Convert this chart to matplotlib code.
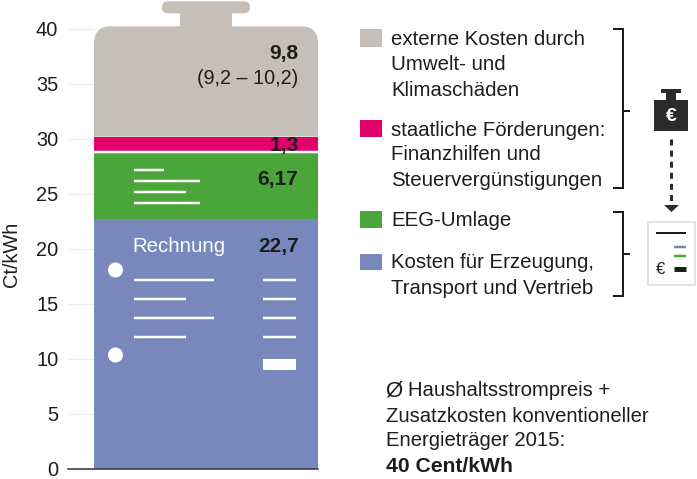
import matplotlib
matplotlib.use("Agg")
import matplotlib.pyplot as plt
from matplotlib.path import Path
from matplotlib.patches import PathPatch, Rectangle, Circle, Polygon

plt.rcParams['font.family'] = ['Liberation Sans', 'DejaVu Sans']

segment_names = ["Kosten", "EEG", "Foerderung", "Extern"]
segment_values = [22.7, 6.17, 1.3, 9.8]
segment_labels = ["22,7", "6,17", "1,3", "9,8"]
segment_colors = ["#7888bd", "#4aa63a", "#e2006a", "#c5bfb7"]
range_label = "(9,2 – 10,2)"
y_ticks = [0, 5, 10, 15, 20, 25, 30, 35, 40]

W, H = 697, 479
fig = plt.figure(figsize=(W/100, H/100), dpi=100)
PX = 72/100

# pixel overlay
ov = fig.add_axes([0, 0, 1, 1], zorder=3)
ov.set_xlim(0, W); ov.set_ylim(H, 0); ov.axis("off")

# chart axes: x in px, y in data
bottom_px, top_px = 468.5, 28.5
ax = fig.add_axes([68/W, (H-bottom_px)/H, 250/W, (bottom_px-top_px)/H], zorder=2)
ax.patch.set_alpha(0)
ax.set_xlim(68, 318); ax.set_ylim(0, 40)
for s in ["top", "right", "left"]:
    ax.spines[s].set_visible(False)
ax.spines["bottom"].set_color("#333333")
ax.spines["bottom"].set_linewidth(1.1)
ax.set_xticks([])
ax.set_yticks(y_ticks)
ax.tick_params(axis="y", direction="in", length=26*PX, width=0.9, color="#ececec",
               labelsize=14.4, labelcolor="#1d1d1b", pad=7)

x0, x1 = 94, 318
xc = (x0+x1)/2
bottom = 0
for v, c in zip(segment_values[:3], segment_colors[:3]):
    ax.bar(xc, v, width=x1-x0, bottom=bottom, color=c, linewidth=0, zorder=2)
    bottom += v
# white gap under the pink band
gap = bottom - segment_values[2]
ax.plot([x0, x1], [gap-0.11, gap-0.11], color="white", lw=2.5*PX, solid_capstyle="butt", zorder=3)

# weight-shaped grey segment
top = bottom + segment_values[3] + 0.23
u = 1/11  # one pixel in value units
r = 17
nx0, nx1 = 180, 232
cx0, cx1 = 162, 250
verts = [(x0, bottom), (x0, top-r*u), (x0, top), (x0+r, top), (nx0, top), (nx0, top+13*u),
         (cx0+6, top+13*u), (cx0, top+13*u), (cx0, top+19*u), (cx0, top+25*u), (cx0+6, top+25*u),
         (cx1-6, top+25*u), (cx1, top+25*u), (cx1, top+19*u), (cx1, top+13*u), (cx1-6, top+13*u),
         (nx1, top+13*u), (nx1, top), (x1-r, top), (x1, top), (x1, top-r*u), (x1, bottom), (x0, bottom)]
codes = [Path.MOVETO, Path.LINETO, Path.CURVE3, Path.CURVE3, Path.LINETO, Path.LINETO,
         Path.LINETO, Path.CURVE3, Path.CURVE3, Path.CURVE3, Path.CURVE3,
         Path.LINETO, Path.CURVE3, Path.CURVE3, Path.CURVE3, Path.CURVE3,
         Path.LINETO, Path.LINETO, Path.LINETO, Path.CURVE3, Path.CURVE3, Path.LINETO, Path.CLOSEPOLY]
ax.add_patch(PathPatch(Path(verts, codes), facecolor=segment_colors[3], edgecolor="none", clip_on=False, zorder=2))

txt = "#1d1d1b"
ov.text(11, 254, "Ct/kWh", rotation=90, ha="center", va="center", fontsize=14.4, color=txt)
bold = dict(ha="right", va="center", fontsize=15, fontweight="bold", color=txt)
ov.text(298.5, 53, segment_labels[3], **bold)
ov.text(298.5, 78, range_label, ha="right", va="center", fontsize=14.2, color=txt)
ov.text(298.5, 146, segment_labels[2], **bold)
ov.text(298.5, 179, segment_labels[1], **bold)
ov.text(298.5, 246, segment_labels[0], **bold)
ov.text(132, 246, "Rechnung", ha="left", va="center", fontsize=14.7, color="white")

def hl(x0, x1, y, c="white", lw=2):
    ov.plot([x0, x1], [y, y], color=c, lw=lw*PX, solid_capstyle="butt")

for a, b, y in [(134, 164, 169.5), (134, 200, 180.5), (134, 186, 191.5), (134, 200, 202.5)]:
    hl(a, b, y, lw=2.5)
for a, b, y in [(134, 214, 280), (134, 186, 299), (134, 214, 317.5), (134, 186, 337)]:
    hl(a, b, y, lw=2.5)
    hl(263, 296, y, lw=2.5)
ov.add_patch(Rectangle((263, 359), 33, 11, fc="white", ec="none"))
ov.add_patch(Circle((115.5, 270), 7.5, fc="white", ec="none"))
ov.add_patch(Circle((115.5, 355), 7.5, fc="white", ec="none"))

# legend
for (y0, y1), c in zip([(254, 270), (211, 228), (120, 137), (29, 47)], segment_colors):
    ov.add_patch(Rectangle((360, y0), 22, y1-y0, fc=c, ec="none"))
leg = dict(ha="left", va="center", fontsize=14.7, color=txt)
for y, s in [(39, "externe Kosten durch"), (64, "Umwelt- und"), (90, "Klimaschäden"),
             (130, "staatliche Förderungen:"), (155, "Finanzhilfen und"), (181, "Steuervergünstigungen"),
             (221, "EEG-Umlage"), (262, "Kosten für Erzeugung,"), (288, "Transport und Vertrieb")]:
    ov.text(391, y, s, **leg)

# brackets
def bracket(y0, y1, ym):
    ov.plot([613, 623, 623, 613], [y0, y0, y1, y1], color="#1d1d1b", lw=2*PX, solid_joinstyle="miter", solid_capstyle="butt")
    hl(623, 630, ym, c="#1d1d1b", lw=2)
bracket(29, 188, 111)
bracket(212, 296, 254)

# weight icon
dk = "#2b2b2b"
ov.add_patch(Rectangle((661, 89), 20, 4, fc=dk, ec="none"))
ov.add_patch(Rectangle((666, 93), 10, 7, fc=dk, ec="none"))
ov.add_patch(Rectangle((654, 100), 34, 31, fc=dk, ec="none"))
ov.text(671, 116, "€", color="white", fontsize=14, fontweight="bold", ha="center", va="center")
ov.plot([671, 671], [139, 203], color=dk, lw=3*PX, ls=(0, (2, 1.7)), solid_capstyle="butt")
ov.add_patch(Polygon([(664, 205), (679, 205), (671.5, 212)], fc=dk, ec="none"))

# small bill icon
ov.add_patch(Rectangle((648, 222), 47, 63, fc="white", ec="#e3e3e3", lw=2*PX))
hl(656, 686, 233, c="#1d1d1b", lw=2)
hl(674, 686, 247, c=segment_colors[0], lw=2.5)
hl(674, 686, 255.5, c=segment_colors[1], lw=2.5)
hl(674, 686, 269, c="#1d1d1b", lw=5)
ov.text(661, 269, "€", color=txt, fontsize=12, ha="center", va="center")

# note
note = dict(ha="left", va="center", fontsize=14.6, color=txt)
ov.text(385, 391, "Ø", fontsize=16, ha="left", va="center", color=txt)
ov.text(408, 391, "Haushaltsstrompreis +", **note)
ov.text(386, 416, "Zusatzkosten konventioneller", **note)
ov.text(386, 441, "Energieträger 2015:", **note)
ov.text(386, 466, "40 Cent/kWh", ha="left", va="center", fontsize=15.2, fontweight="bold", color=txt)

fig.savefig("out.png", dpi=100)
